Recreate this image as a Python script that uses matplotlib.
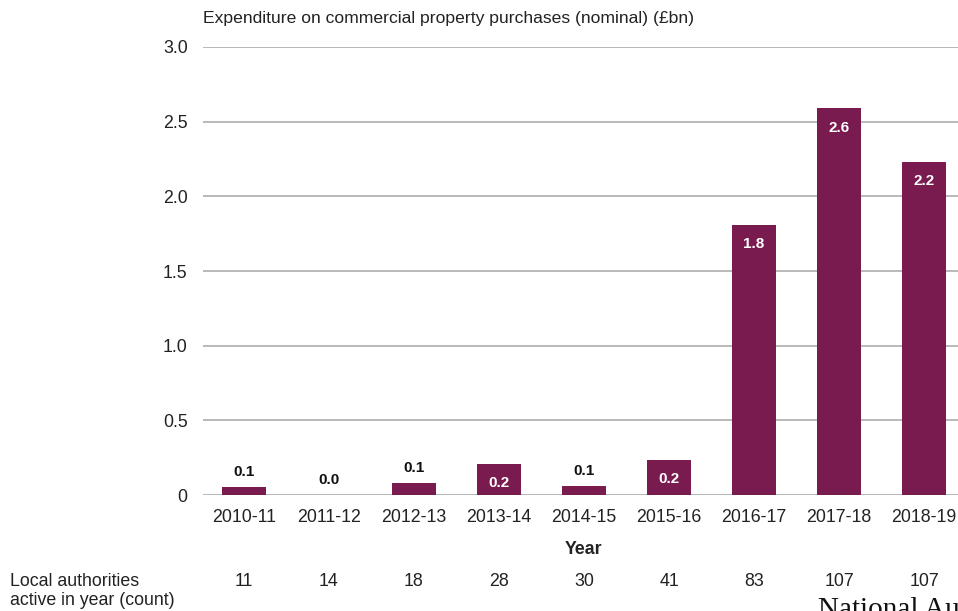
"""
Local authority commercial property purchases, 2010-11 to 2018-19
"""

import matplotlib.pyplot as plt
import matplotlib.transforms as mtransforms

plt.rcParams['font.family'] = ['Liberation Sans', 'DejaVu Sans']

# Data
years = ['2010-11', '2011-12', '2012-13', '2013-14', '2014-15',
         '2015-16', '2016-17', '2017-18', '2018-19']
spend = [0.055, 0.0, 0.08, 0.21, 0.06, 0.235, 1.81, 2.59, 2.23]
spend_labels = ['0.1', '0.0', '0.1', '0.2', '0.1', '0.2', '1.8', '2.6', '2.2']
authorities = [11, 14, 18, 28, 30, 41, 83, 107, 107]

bar_color = '#7A1B4F'
grid_color = '#a6a6a6'
text_color = '#222222'

fig = plt.figure(figsize=(9.58, 6.11), dpi=100)
ax = fig.add_axes([0.2119, 0.1898, 0.7954, 0.7333])

x = list(range(len(years)))
bars = ax.bar(x, spend, width=0.51, color=bar_color, zorder=3)

ax.set_xlim(-0.48, len(years) - 0.52)
ax.set_ylim(0, 3.0)
ax.set_yticks([0, 0.5, 1.0, 1.5, 2.0, 2.5, 3.0])
ax.set_yticklabels(['0', '0.5', '1.0', '1.5', '2.0', '2.5', '3.0'])
ax.set_xticks(x)
ax.set_xticklabels(years)
ax.tick_params(axis='both', length=0, labelsize=12.8, colors=text_color)
ax.tick_params(axis='y', pad=11)
ax.tick_params(axis='x', pad=10)
for s in ax.spines.values():
    s.set_visible(False)
ax.yaxis.grid(True, color=grid_color, linewidth=1.1)
ax.set_axisbelow(True)

# Value labels: white inside the bar, dark above the small ones
for bar, val, lab in zip(bars, spend, spend_labels):
    cx = bar.get_x() + bar.get_width() / 2
    if val >= 0.15:
        ax.annotate(lab, (cx, val), xytext=(0, -14), textcoords='offset points',
                    ha='center', va='center', fontsize=11, fontweight='bold',
                    color='white', zorder=4)
    else:
        ax.annotate(lab, (cx, val), xytext=(0, 11), textcoords='offset points',
                    ha='center', va='center', fontsize=11, fontweight='bold',
                    color='#111111', zorder=4)

ax.set_xlabel('Year', fontsize=12.8, fontweight='bold', color=text_color, labelpad=11)

# Title above the chart
fig.text(0.2119, 1 - 19 / 611, 'Expenditure on commercial property purchases (nominal) (£bn)',
         ha='left', va='center', fontsize=12.6, color=text_color)

# Count row under the chart
row_y = 1 - 581 / 611
row_trans = mtransforms.blended_transform_factory(ax.transData, fig.transFigure)
for xi, n in zip(x, authorities):
    ax.text(xi, row_y, str(n), transform=row_trans,
            ha='center', va='center', fontsize=12.8, color=text_color)
fig.text(10 / 958, 1 - 591 / 611, 'Local authorities\nactive in year (count)',
         ha='left', va='center', fontsize=12.8, color=text_color, linespacing=1.2)

# Footer, cut off at the edge in the original
fig.text(818 / 958, 1 - 597 / 611, 'National Audit Office', ha='left', va='top',
         fontsize=21, color='#111111', family=['Liberation Serif', 'DejaVu Serif'])

plt.savefig('out.png', dpi=100)
plt.close()
print('Saved: out.png')
